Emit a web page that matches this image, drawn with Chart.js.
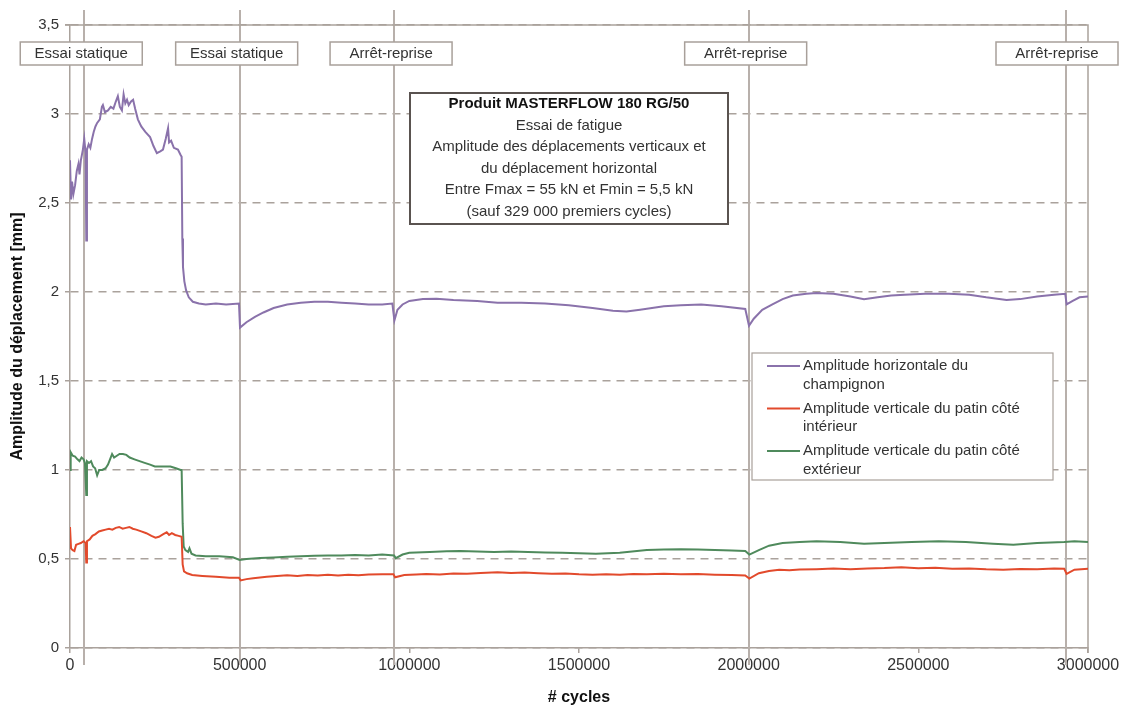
<!DOCTYPE html>
<html>
<head>
<meta charset="utf-8">
<script src="https://cdn.jsdelivr.net/npm/chart.js@4.4.0/dist/chart.umd.min.js"></script>
<style>
html, body { margin: 0; padding: 0; background: #fff; }
canvas { display: block; }
</style>
</head>
<body>
<canvas id="chart" width="1124" height="707"></canvas>
<script>
// amplitude horizontale du champignon
const cyclesH = [0, 3000, 6000, 10000, 15000, 20000, 25000, 28000, 32000, 38000, 42000, 46000, 48000, 50000,
  55000, 60000, 65000, 70000, 75000, 80000, 88000, 94000, 97000, 103000, 112000, 120000, 128000, 135000,
  141000, 147000, 153000, 158000, 163000, 168000, 173000, 180000, 186000, 192000, 200000, 210000, 222000,
  236000, 246000, 256000, 266000, 274000, 282000, 289000, 292000, 298000, 306000, 318000, 326000, 329000,
  331000, 333000, 337000, 342000, 350000, 362000, 380000, 400000, 430000, 460000, 498000, 501000, 520000,
  545000, 570000, 600000, 640000, 680000, 720000, 760000, 800000, 840000, 880000, 920000, 950000, 956000,
  965000, 980000, 1000000, 1040000, 1080000, 1130000, 1200000, 1260000, 1330000, 1400000, 1470000, 1540000,
  1600000, 1640000, 1680000, 1750000, 1800000, 1860000, 1920000, 1990000, 2001000, 2015000, 2040000,
  2070000, 2100000, 2130000, 2170000, 2200000, 2250000, 2300000, 2340000, 2380000, 2420000, 2460000,
  2520000, 2590000, 2650000, 2700000, 2760000, 2800000, 2850000, 2900000, 2933000, 2937000, 2955000,
  2975000, 3000000];
const ampH = [2.74, 2.52, 2.62, 2.55, 2.60, 2.68, 2.72, 2.66, 2.74, 2.80, 2.86, 2.78, 2.29, 2.80,
  2.83, 2.81, 2.86, 2.90, 2.93, 2.95, 2.97, 3.04, 3.05, 3.01, 3.02, 3.04, 3.03, 3.07,
  3.10, 3.04, 3.02, 3.11, 3.06, 3.08, 3.05, 3.07, 3.08, 3.03, 2.97, 2.93, 2.90,
  2.87, 2.82, 2.78, 2.79, 2.80, 2.86, 2.92, 2.84, 2.85, 2.81, 2.80, 2.77, 2.76,
  2.30, 2.14, 2.06, 2.01, 1.97, 1.945, 1.935, 1.93, 1.935, 1.93, 1.935, 1.80, 1.83,
  1.86, 1.885, 1.91, 1.93, 1.94, 1.945, 1.945, 1.94, 1.935, 1.93, 1.93, 1.935, 1.84,
  1.90, 1.93, 1.95, 1.96, 1.962, 1.955, 1.95, 1.94, 1.94, 1.935, 1.925, 1.91,
  1.895, 1.89, 1.90, 1.92, 1.925, 1.93, 1.92, 1.905, 1.81, 1.85, 1.90,
  1.93, 1.96, 1.98, 1.99, 1.995, 1.99, 1.975, 1.96, 1.97, 1.98, 1.985,
  1.99, 1.99, 1.985, 1.97, 1.955, 1.96, 1.975, 1.985, 1.99, 1.93, 1.95,
  1.97, 1.975];

// amplitude verticale du patin côté intérieur
const cyclesInt = [0, 3000, 8000, 13000, 18000, 25000, 32000, 40000, 46000, 48000, 50000, 58000, 66000,
  75000, 85000, 95000, 105000, 115000, 125000, 135000, 145000, 155000, 165000, 175000, 185000, 195000,
  210000, 225000, 240000, 252000, 262000, 275000, 285000, 292000, 300000, 310000, 320000, 329000, 332000,
  336000, 345000, 360000, 390000, 430000, 470000, 498000, 503000, 520000, 540000, 560000, 580000, 610000,
  640000, 670000, 700000, 730000, 760000, 790000, 820000, 850000, 880000, 920000, 953000, 958000, 985000,
  1020000, 1050000, 1090000, 1130000, 1170000, 1210000, 1260000, 1300000, 1340000, 1380000, 1420000,
  1460000, 1500000, 1540000, 1580000, 1620000, 1660000, 1700000, 1750000, 1800000, 1850000, 1900000,
  1950000, 1990000, 2002000, 2030000, 2060000, 2090000, 2120000, 2150000, 2200000, 2250000, 2300000,
  2350000, 2400000, 2450000, 2500000, 2550000, 2600000, 2650000, 2700000, 2750000, 2800000, 2850000,
  2900000, 2930000, 2937000, 2960000, 3000000];
const ampInt = [0.68, 0.56, 0.55, 0.545, 0.58, 0.585, 0.59, 0.60, 0.59, 0.48, 0.60, 0.61, 0.63,
  0.64, 0.655, 0.66, 0.665, 0.67, 0.665, 0.675, 0.68, 0.67, 0.675, 0.68, 0.67, 0.665,
  0.655, 0.645, 0.63, 0.62, 0.625, 0.64, 0.65, 0.635, 0.645, 0.635, 0.63, 0.625, 0.47,
  0.43, 0.42, 0.41, 0.405, 0.40, 0.395, 0.395, 0.38, 0.387, 0.392, 0.396, 0.40, 0.404,
  0.408, 0.405, 0.41, 0.407, 0.411, 0.408, 0.412, 0.409, 0.413, 0.415, 0.415, 0.397, 0.41,
  0.413, 0.416, 0.413, 0.419, 0.417, 0.422, 0.425, 0.421, 0.424, 0.42, 0.417,
  0.419, 0.414, 0.411, 0.414, 0.412, 0.416, 0.414, 0.417, 0.414, 0.416, 0.412,
  0.41, 0.408, 0.39, 0.42, 0.432, 0.44, 0.437, 0.441, 0.443, 0.446, 0.443,
  0.447, 0.449, 0.454, 0.448, 0.451, 0.445, 0.447, 0.442, 0.44, 0.444, 0.442,
  0.446, 0.445, 0.416, 0.44, 0.445];

// amplitude verticale du patin côté extérieur
const cyclesExt = [0, 2000, 8000, 15000, 22000, 28000, 34000, 40000, 44000, 48000, 50000, 56000, 62000,
  68000, 74000, 80000, 86000, 95000, 105000, 112000, 118000, 124000, 130000, 138000, 146000, 156000,
  166000, 176000, 190000, 205000, 220000, 236000, 250000, 266000, 280000, 296000, 312000, 326000, 329000,
  332000, 335000, 340000, 348000, 352000, 358000, 370000, 400000, 440000, 480000, 500000, 520000, 560000,
  600000, 640000, 680000, 720000, 760000, 800000, 840000, 880000, 920000, 955000, 960000, 980000, 1000000,
  1060000, 1110000, 1150000, 1200000, 1250000, 1300000, 1350000, 1400000, 1450000, 1500000, 1550000,
  1620000, 1700000, 1750000, 1800000, 1850000, 1900000, 1950000, 1990000, 2002000, 2030000,
  2060000, 2100000, 2150000, 2200000, 2270000, 2340000, 2400000, 2480000, 2560000, 2640000, 2720000,
  2780000, 2850000, 2930000, 2960000, 3000000];
const ampExt = [1.00, 1.10, 1.08, 1.075, 1.06, 1.05, 1.07, 1.06, 1.04, 0.86, 1.05, 1.04, 1.05,
  1.02, 1.01, 0.97, 1.00, 1.00, 1.01, 1.03, 1.06, 1.09, 1.07, 1.08, 1.09, 1.09,
  1.085, 1.07, 1.06, 1.05, 1.04, 1.03, 1.02, 1.02, 1.02, 1.02, 1.01, 1.00, 1.00,
  0.70, 0.57, 0.55, 0.54, 0.56, 0.53, 0.52, 0.515, 0.515, 0.51, 0.495, 0.50, 0.505,
  0.509, 0.512, 0.515, 0.518, 0.52, 0.519, 0.522, 0.52, 0.525, 0.52, 0.505, 0.525, 0.535,
  0.54, 0.543, 0.545, 0.542, 0.54, 0.542, 0.54, 0.537, 0.535, 0.532, 0.53,
  0.535, 0.55, 0.553, 0.555, 0.553, 0.55, 0.548, 0.545, 0.525, 0.55,
  0.575, 0.59, 0.595, 0.60, 0.595, 0.585, 0.59, 0.595, 0.60, 0.595, 0.585,
  0.58, 0.59, 0.595, 0.60, 0.595];

// événements (lignes verticales)
const eventCycles = [42000, 500000, 955000, 2000000, 2935000];
const eventLabels = ['Essai statique', 'Essai statique', 'Arrêt-reprise', 'Arrêt-reprise', 'Arrêt-reprise'];

const titleLines = [
  'Produit MASTERFLOW 180 RG/50',
  'Essai de fatigue',
  'Amplitude des déplacements verticaux et',
  'du déplacement horizontal',
  'Entre Fmax = 55 kN et Fmin = 5,5 kN',
  '(sauf 329 000 premiers cycles)'
];

const seriesLabels = [
  ['Amplitude horizontale du', 'champignon'],
  ['Amplitude verticale du patin côté', 'intérieur'],
  ['Amplitude verticale du patin côté', 'extérieur']
];

const FONT = 'Arial, "Liberation Sans", sans-serif';
const GRID = '#aaa29c';

function toPoints(xs, ys) {
  return xs.map((x, i) => ({ x: x, y: ys[i] }));
}

// lignes d'événements, cadre, étiquettes, titre et légende
const decor = {
  id: 'decor',
  beforeDatasetsDraw(chart) {
    const ctx = chart.ctx;
    const area = chart.chartArea;
    const xs = chart.scales.x;
    ctx.save();
    ctx.strokeStyle = '#b8b0ab';
    ctx.lineWidth = 2;
    eventCycles.forEach(c => {
      const px = Math.round(xs.getPixelForValue(c));
      ctx.beginPath();
      ctx.moveTo(px, 10);
      ctx.lineTo(px, area.bottom + 17);
      ctx.stroke();
    });
    ctx.strokeStyle = GRID;
    ctx.lineWidth = 1.5;
    ctx.beginPath();
    ctx.moveTo(area.left - 5, area.top);
    ctx.lineTo(area.right, area.top);
    ctx.lineTo(area.right, area.bottom + 5);
    ctx.stroke();
    ctx.restore();
  },
  afterDraw(chart) {
    const ctx = chart.ctx;
    const xs = chart.scales.x;
    ctx.save();

    // étiquettes en haut
    ctx.font = '15px ' + FONT;
    ctx.textAlign = 'center';
    ctx.textBaseline = 'middle';
    eventCycles.forEach((c, i) => {
      const px = Math.min(xs.getPixelForValue(c) - 3, chart.width - 67);
      ctx.fillStyle = '#fff';
      ctx.fillRect(px - 61, 42, 122, 23);
      ctx.strokeStyle = '#a8a09a';
      ctx.lineWidth = 1.5;
      ctx.strokeRect(px - 61, 42, 122, 23);
      ctx.fillStyle = '#333';
      ctx.fillText(eventLabels[i], px, 54);
    });

    // cadre du titre
    ctx.fillStyle = '#fff';
    ctx.fillRect(410, 93, 318, 131);
    ctx.strokeStyle = '#5a5350';
    ctx.lineWidth = 2;
    ctx.strokeRect(410, 93, 318, 131);
    titleLines.forEach((t, i) => {
      ctx.font = (i === 0 ? 'bold 15px ' : '15px ') + FONT;
      ctx.fillStyle = i === 0 ? '#111' : '#333';
      ctx.fillText(t, 569, 104 + i * 21.5);
    });

    // légende
    ctx.fillStyle = '#fff';
    ctx.fillRect(752, 353, 301, 127);
    ctx.strokeStyle = '#a8a09a';
    ctx.lineWidth = 1.2;
    ctx.strokeRect(752, 353, 301, 127);
    ctx.textAlign = 'left';
    ctx.font = '15px ' + FONT;
    chart.data.datasets.forEach((ds, i) => {
      const y0 = 366 + i * 42.5;
      ctx.strokeStyle = ds.borderColor;
      ctx.lineWidth = 2;
      ctx.beginPath();
      ctx.moveTo(767, y0);
      ctx.lineTo(800, y0);
      ctx.stroke();
      ctx.fillStyle = '#333';
      seriesLabels[i].forEach((line, j) => ctx.fillText(line, 803, y0 + j * 18.5));
    });
    ctx.restore();
  }
};

new Chart(document.getElementById('chart'), {
  type: 'line',
  data: {
    datasets: [
      { label: seriesLabels[0].join(' '), data: toPoints(cyclesH, ampH), borderColor: '#8a72ab', borderWidth: 2 },
      { label: seriesLabels[1].join(' '), data: toPoints(cyclesInt, ampInt), borderColor: '#e24a2c', borderWidth: 2 },
      { label: seriesLabels[2].join(' '), data: toPoints(cyclesExt, ampExt), borderColor: '#4f8a5c', borderWidth: 2 }
    ]
  },
  options: {
    responsive: false,
    animation: false,
    layout: { padding: { top: 25, right: 36, left: 0, bottom: 0 } },
    elements: { point: { radius: 0 }, line: { tension: 0 } },
    plugins: { legend: { display: false }, tooltip: { enabled: false } },
    scales: {
      x: {
        type: 'linear',
        min: 0,
        max: 3000000,
        afterFit: s => { s.height = 59; },
        ticks: {
          stepSize: 500000,
          padding: 3,
          maxRotation: 0,
          color: '#333',
          font: { family: FONT, size: 16 },
          callback: v => String(v)
        },
        grid: { drawOnChartArea: false, tickLength: 5, color: GRID, lineWidth: 1.5 },
        border: { color: GRID, width: 1.5 },
        title: {
          display: true,
          text: '# cycles',
          color: '#111',
          font: { family: FONT, size: 16, weight: 'bold' },
          padding: { top: 0, bottom: 0 }
        }
      },
      y: {
        min: 0,
        max: 3.5,
        afterFit: s => { s.width = 70; },
        ticks: {
          stepSize: 0.5,
          padding: 6,
          color: '#333',
          font: { family: FONT, size: 15 },
          callback: v => String(v).replace('.', ',')
        },
        grid: { color: GRID, lineWidth: 1.5, tickLength: 5 },
        border: { color: GRID, width: 1.5, dash: [8, 6] },
        title: {
          display: true,
          text: 'Amplitude du déplacement [mm]',
          color: '#111',
          font: { family: FONT, size: 16, weight: 'bold' },
          padding: { top: 8, bottom: 0 }
        }
      }
    }
  },
  plugins: [decor]
});
</script>
</body>
</html>
